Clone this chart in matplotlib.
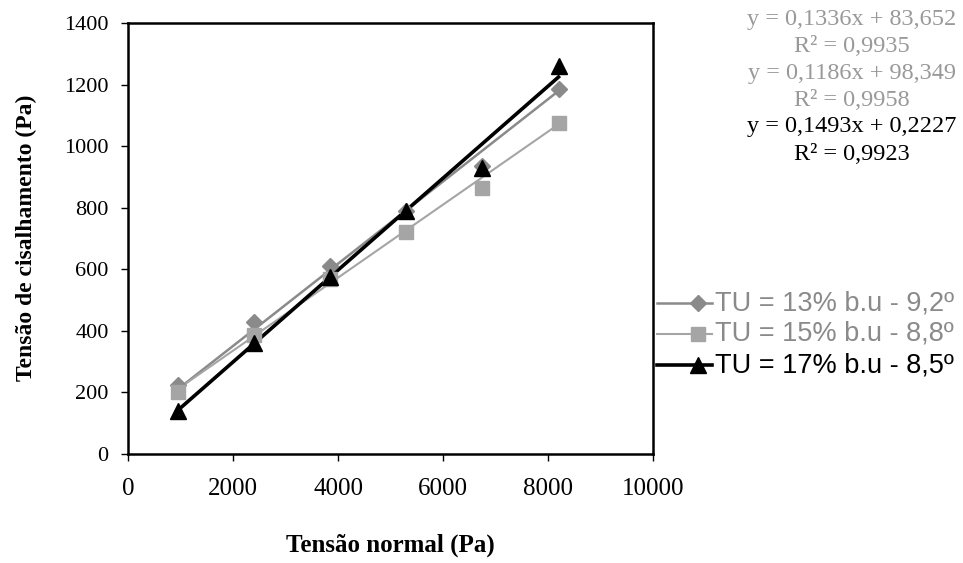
import matplotlib
matplotlib.use("Agg")
import matplotlib.pyplot as plt
from matplotlib.lines import Line2D

# Data
normal_stress = [950, 2400, 3850, 5300, 6750, 8200]
shear_13 = [225, 430, 610, 790, 935, 1185]
shear_15 = [200, 385, 570, 720, 865, 1075]
shear_17 = [140, 360, 575, 790, 930, 1260]
series_labels = ["TU = 13% b.u - 9,2º", "TU = 15% b.u - 8,8º", "TU = 17% b.u - 8,5º"]
slopes = [0.1336, 0.1186, 0.1493]
intercepts = [83.652, 98.349, 0.2227]
eq_texts = ["y = 0,1336x + 83,652", "R² = 0,9935",
            "y = 0,1186x + 98,349", "R² = 0,9958",
            "y = 0,1493x + 0,2227", "R² = 0,9923"]
x_ticks = [0, 2000, 4000, 6000, 8000, 10000]
y_ticks = [0, 200, 400, 600, 800, 1000, 1200, 1400]

serif = "Liberation Serif"
sans = "Liberation Sans"

colors = ["#8a8a8a", "#a5a5a5", "#000000"]
markers = ["D", "s", "^"]
msizes = [8, 10, 11]
lws = [1.8, 1.5, 2.6]
series = [shear_13, shear_15, shear_17]

W, H = 963, 563
fig = plt.figure(figsize=(9.63, 5.63), dpi=100)
ax = fig.add_axes([128 / W, 1 - 454 / H, (653 - 128) / W, (454 - 23) / H])

for k, (ys, c, m, ms, lw) in enumerate(zip(series, colors, markers, msizes, lws)):
    x0, x1 = normal_stress[0], normal_stress[-1]
    ax.plot([x0, x1], [slopes[k] * x0 + intercepts[k], slopes[k] * x1 + intercepts[k]],
            color=c, lw=lw, zorder=2 + k)
    ax.plot(normal_stress, ys, linestyle="none", marker=m, markersize=ms,
            color=c, markeredgecolor=c, zorder=5 + k)

ax.set_xlim(0, 10000)
ax.set_ylim(0, 1400)
ax.set_xticks(x_ticks)
ax.set_yticks(y_ticks)
ax.set_xticklabels([str(v) for v in x_ticks], fontfamily=serif, fontsize=18)
ax.set_yticklabels([str(v) for v in y_ticks], fontfamily=serif, fontsize=16)
ax.tick_params(direction="out", length=5, width=1)
ax.tick_params(axis="x", pad=12)
ax.tick_params(axis="y", pad=9)
for s in ax.spines.values():
    s.set_linewidth(1.8)

fig.text(390 / W, 1 - 545 / H, "Tensão normal (Pa)", fontfamily=serif, fontsize=18,
         fontweight="bold", ha="center", va="center")
fig.text(26 / W, 1 - 238 / H, "Tensão de cisalhamento (Pa)", fontfamily=serif, fontsize=17,
         fontweight="bold", ha="center", va="center", rotation=90)

# Equations
eq_colors = ["#999999", "#999999", "#999999", "#999999", "#000000", "#000000"]
y_px = [20, 47, 74, 100, 127, 155]
for t, c, yp in zip(eq_texts, eq_colors, y_px):
    fig.text(852 / W, 1 - yp / H, t, fontfamily=serif, fontsize=17.5, color=c,
             ha="center", va="center")

# Legend (manual)
leg_rows = [303, 334, 365]
leg_text_colors = ["#8a8a8a", "#8a8a8a", "#000000"]
for lab, c, m, ms, lw, yp, tc in zip(series_labels, colors, markers, msizes, lws,
                                      leg_rows, leg_text_colors):
    yf = 1 - yp / H
    fig.add_artist(Line2D([657 / W, 712 / W], [yf, yf], color=c, lw=lw,
                          transform=fig.transFigure))
    fig.add_artist(Line2D([698 / W], [yf], color=c, marker=m, markersize=ms,
                          markeredgecolor=c, linestyle="none", transform=fig.transFigure))
    fig.text(715 / W, yf, lab, fontfamily=sans, fontsize=19.5, color=tc,
             ha="left", va="center")

fig.savefig("out.png", dpi=100)
